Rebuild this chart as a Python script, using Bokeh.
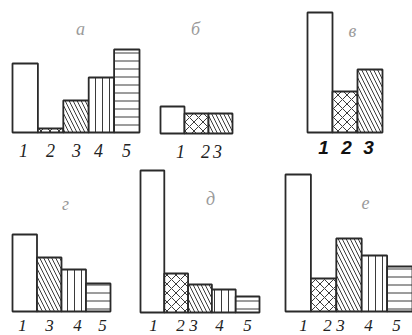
from bokeh.plotting import figure
from bokeh.models import Range1d, ColumnDataSource
from bokeh.core.properties import value
from bokeh.embed import file_html
from bokeh.resources import INLINE

# ---------------- data (bar heights, arbitrary units) ----------------
a_cats = ["1", "2", "3", "4", "5"]
a_vals = [69, 4, 32, 55, 83]
b_cats = ["1", "2", "3"]
b_vals = [27, 20, 20]
v_cats = ["1", "2", "3"]
v_vals = [120, 41, 63]
g_cats = ["1", "3", "4", "5"]
g_vals = [77, 54, 42, 28]
d_cats = ["1", "2", "3", "4", "5"]
d_vals = [142, 39, 28, 23, 16]
e_cats = ["1", "2", "3", "4", "5"]
e_vals = [137, 33, 73, 56, 45]
panel_titles = ["а", "б", "в", "г", "д", "е"]

# ---------------- styling / layout ----------------
W, H = 412, 335
hatch_of = {"1": " ", "2": "diagonal_cross", "3": "left_diagonal_line",
            "4": "vertical_line", "5": "horizontal_line"}
scale_of = {"1": 8, "2": 9, "3": 8, "4": 7, "5": 8}

panels = [
    # cats, vals, left, width, baseline, title(x,y), label_x, label_y, bold, size
    (a_cats, a_vals, 12, 25.4, 132, (80, 28), [23, 50, 76, 98, 126], 150, False, "18px"),
    (b_cats, b_vals, 160, 24.0, 133, (195, 28), [180, 205, 217], 151, False, "18px"),
    (v_cats, v_vals, 307, 25.0, 132, (352, 30), [323, 346, 368], 147, True, "19px"),
    (g_cats, g_vals, 12, 24.5, 311, (65, 203), [22, 49, 77, 102], 325, False, "17px"),
    (d_cats, d_vals, 140, 23.8, 312, (210, 198), [153, 180, 193, 219, 247], 325, False, "17px"),
    (e_cats, e_vals, 285, 25.4, 311, (365, 202), [303, 327, 340, 368, 396], 325, False, "17px"),
]

p = figure(width=W, height=H, output_backend="svg", toolbar_location=None,
           x_range=Range1d(0, W), y_range=Range1d(0, H),
           min_border=0, min_border_left=0, min_border_right=0,
           min_border_top=0, min_border_bottom=0)
p.axis.visible = False
p.grid.visible = False
p.outline_line_color = None
p.background_fill_color = "white"
p.border_fill_color = "white"

for i, (cats, vals, left, w, base, tpos, lx, ly, bold, fs) in enumerate(panels):
    xs = [left + w * (k + 0.5) for k in range(len(cats))]
    bottom = H - base
    src = ColumnDataSource(dict(
        x=xs,
        top=[bottom + v for v in vals],
        hatch=[hatch_of[c] for c in cats],
        hscale=[scale_of[c] for c in cats],
    ))
    p.vbar(x="x", width=w, bottom=bottom, top="top", source=src,
           fill_color="white", line_color="#2a2a2a", line_width=1.8,
           hatch_pattern="hatch", hatch_scale="hscale",
           hatch_color="#3a3a3a", hatch_weight=1.0)
    # category labels
    if bold:
        p.text(x=lx, y=[H - ly] * len(cats), text=cats,
               text_font=value("Liberation Sans"), text_font_style="bold italic",
               text_font_size=fs, text_color="#111111",
               text_align="center", text_baseline="middle")
    else:
        p.text(x=lx, y=[H - ly] * len(cats), text=cats,
               text_font=value("Liberation Serif"), text_font_style="italic",
               text_font_size=fs, text_color="#222222",
               text_align="center", text_baseline="middle")
    # panel title
    p.text(x=[tpos[0]], y=[H - tpos[1]], text=[panel_titles[i]],
           text_font=value("Liberation Serif"), text_font_style="italic",
           text_font_size="18px", text_color="#9a9a9a",
           text_align="center", text_baseline="middle")

open("out.html", "w").write(file_html(p, INLINE))
